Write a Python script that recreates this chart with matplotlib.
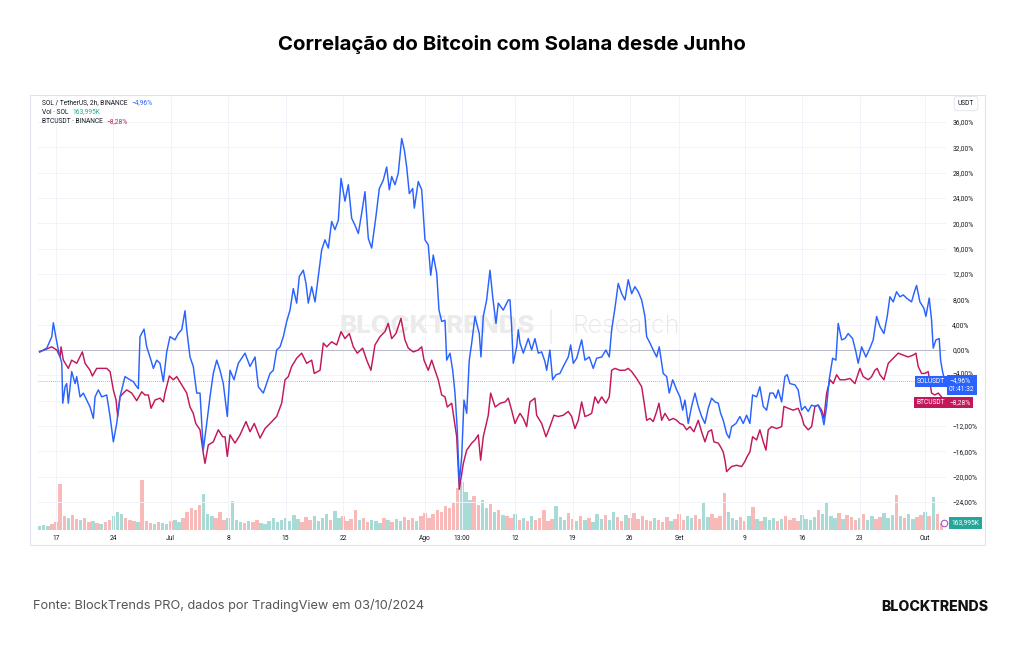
import numpy as np
import pandas as pd
import matplotlib
matplotlib.use("Agg")
import matplotlib.pyplot as plt
import matplotlib.transforms as mtransforms
from matplotlib.patches import Rectangle

# values, % change since the first bar
start = pd.Timestamp("2024-06-15")

sol_days = [0.0, 0.87, 1.48, 1.67, 2.0, 2.28, 2.7, 2.82, 3.1, 3.3, 3.5, 3.91, 4.32, 4.52, 4.93,
            5.33, 5.74, 6.15, 6.55, 6.76, 7.16, 7.57, 8.18, 8.59, 8.99, 9.4, 9.8, 10.41, 11.02,
            11.43, 11.84, 12.04, 12.24, 12.73, 13.06, 13.46, 13.87, 14.28, 14.68, 15.09, 15.5,
            15.9, 16.51, 16.91, 17.33, 17.73, 17.94, 18.34, 18.74, 19.16, 19.56, 19.77, 19.96,
            20.38, 20.78, 21.18, 21.6, 22.0, 22.4, 22.89, 23.22, 23.71, 24.23, 25.05, 25.66,
            26.27, 26.67, 27.28, 28.1, 28.5, 28.91, 29.32, 29.72, 30.13, 30.54, 30.94, 31.35,
            31.67, 32.16, 32.49, 32.77, 33.18, 33.59, 33.99, 34.4, 34.8, 35.21, 35.62, 36.02,
            36.43, 36.76, 37.24, 37.65, 38.06, 38.46, 38.87, 39.28, 39.68, 40.09, 40.5, 41.02,
            41.43, 41.91, 42.33, 42.65, 42.94, 43.34, 43.74, 44.16, 44.48, 44.77, 45.09, 45.5,
            45.7, 46.18, 46.6, 47.0, 47.4, 47.7, 48.01, 48.43, 48.71, 49.04, 49.44, 49.65,
            50.05, 50.38, 50.66, 50.94, 51.18, 51.48, 51.76, 52.09, 52.4, 52.7, 53.1, 53.62,
            53.83, 54.11, 54.52, 54.93, 55.26, 55.66, 55.94, 56.55, 57.16, 57.37, 57.57, 57.77,
            58.18, 58.38, 58.59, 58.99, 59.6, 60.01, 60.41, 60.82, 61.23, 61.63, 61.84, 62.24,
            62.57, 62.98, 63.46, 63.95, 64.48, 64.77, 65.09, 65.5, 66.11, 66.51, 67.04, 67.52,
            67.94, 68.55, 69.07, 69.48, 69.77, 70.17, 70.57, 70.99, 71.39, 71.79, 72.21, 72.61,
            73.01, 73.43, 73.83, 74.04, 74.44, 74.84, 75.26, 75.57, 75.87, 76.06, 76.48, 76.79,
            77.21, 77.7, 78.1, 78.43, 78.71, 79.11, 79.52, 79.93, 80.33, 80.74, 81.15, 81.55,
            81.96, 82.37, 82.77, 83.06, 83.38, 83.79, 84.11, 84.4, 84.93, 85.41, 85.82, 86.23,
            86.63, 86.96, 87.45, 87.85, 88.26, 88.67, 89.07, 89.48, 89.8, 90.09, 90.5, 90.9,
            91.18, 91.51, 92.12, 92.52, 92.94, 93.34, 93.74, 94.16, 94.56, 94.96, 95.38, 95.66,
            95.99, 96.3, 96.72, 97.12, 97.4, 97.82, 98.22, 98.62, 99.16, 99.56, 99.84, 100.26,
            100.78, 101.27, 101.67, 102.09, 102.49, 102.98, 103.38, 103.71, 104.11, 104.52,
            104.93, 105.33, 105.74, 106.35, 106.63, 106.96, 107.37, 107.85, 108.1, 108.5,
            108.79, 108.99, 109.32, 109.72, 109.89, 110.13, 110.41]
sol_pct = [-0.3, 0.3, 2.1, 4.3, 1.9, 0.0, -2.1, -8.4, -5.8, -5.3, -8.4, -3.4, -5.3, -4.2, -7.4,
           -6.8, -7.9, -9.0, -10.8, -7.4, -6.3, -7.4, -7.1, -10.5, -14.5, -11.6, -7.4, -4.2, -4.7,
           -5.0, -5.8, -6.1, 2.1, 3.3, 0.5, -1.1, -2.9, -1.6, -2.1, -5.0, -0.3,
           2.1, 1.6, 2.6, 3.2, 6.2, 3.2, -1.1, -2.6, -6.8, -6.8, -11.6, -15.8,
           -11.6, -7.4, -3.7, -1.6, -3.2, -5.3, -10.5, -3.2, -4.7, -2.1, -0.5, -2.6,
           -1.1, -5.8, -6.8, -3.7, -3.2, 0.0, 0.5, 2.1, 4.5, 6.3, 9.7, 7.4,
           11.6, 12.6, 10.5, 7.4, 10.0, 7.6, 11.6, 15.8, 17.4, 16.1, 20.3, 19.0,
           20.5, 27.1, 23.5, 26.1, 20.8, 19.7, 18.4, 21.6, 25.0, 17.6, 16.1, 21.1,
           25.5, 26.8, 28.9, 25.3, 27.4, 26.1, 27.9, 33.4, 31.6, 28.9, 24.7, 25.5,
           22.4, 26.6, 25.3, 17.4, 16.6, 11.8, 15.0, 12.1, 6.3, 4.5, 4.7, -1.6,
           -0.5, -3.2, -6.8, -12.6, -21.0, -16.8, -7.9, -10.0, -1.6, 1.1, 5.3, 2.6,
           -1.1, 5.3, 7.9, 12.6, 8.4, 4.2, 7.4, 6.3, 7.9, 7.9, 3.7, -2.1,
           0.5, 3.2, 1.1, -0.5, 1.8, 0.0, 1.8, -0.5, -0.3, -1.8, -3.2, 0.0,
           -4.7, -3.9, -3.7, -2.4, -1.1, 0.8, -2.1, -1.3, 1.6, -1.6, -1.1, -2.9,
           -1.3, -1.1, 0.0, -1.1, 3.2, 6.6, 10.5, 8.9, 7.9, 11.1, 8.9, 10.0,
           9.2, 7.9, 5.3, 2.1, 1.1, 0.0, -1.1, 0.5, -2.1, -3.7, -4.2, -6.8,
           -4.7, -6.3, -7.4, -9.5, -7.9, -11.6, -8.9, -6.8, -8.9, -10.5, -11.6, -9.2,
           -7.6, -8.2, -8.4, -10.0, -11.1, -13.2, -13.9, -12.1, -11.6, -10.5, -11.6, -10.3,
           -11.6, -7.1, -7.4, -5.8, -8.9, -9.5, -6.8, -6.8, -7.6, -6.3, -8.2, -4.2,
           -3.9, -5.3, -5.5, -6.3, -9.5, -8.9, -9.7, -8.7, -8.9, -8.7, -10.0, -11.8,
           -8.9, -4.7, -1.3, -1.6, 4.2, 1.6, 1.8, 2.6, 1.8, -0.3, -2.1, 0.5,
           -1.1, 0.3, 1.6, 5.3, 3.7, 2.6, 5.3, 8.4, 7.6, 9.2,
           8.4, 8.7, 8.2, 7.6, 8.9, 10.2, 7.6, 6.6, 5.3, 8.2,
           4.7, 0.3, 1.6, 1.8, -1.6, -3.4, -4.96]

btc_days = [0.0, 1.48, 2.09, 2.49, 2.61, 2.89, 3.5, 3.91, 4.52, 5.21, 5.54, 6.15, 6.43, 6.96,
            8.18, 8.59, 8.99, 9.32, 9.52, 9.8, 10.21, 10.62, 11.23, 11.84, 12.45, 12.85, 13.26,
            13.59, 14.07, 14.68, 15.09, 15.29, 15.82, 16.3, 16.72, 17.33, 17.94, 18.34, 18.74,
            19.04, 19.56, 19.96, 20.17, 20.57, 21.18, 21.79, 22.33, 22.61, 22.89, 23.22, 23.83,
            24.44, 25.17, 25.66, 26.18, 26.88, 27.49, 28.1, 28.91, 29.52, 29.93, 30.33, 30.74,
            31.35, 31.96, 32.57, 33.18, 33.5, 34.2, 34.6, 35.01, 35.62, 36.23, 36.76, 37.24,
            37.77, 38.26, 38.74, 39.4, 39.89, 40.41, 40.9, 41.51, 42.12, 42.52, 42.94, 43.46,
            44.07, 44.56, 44.96, 45.57, 46.18, 46.6, 46.88, 47.4, 47.82, 48.22, 48.62, 49.04,
            49.44, 49.72, 50.26, 50.57, 50.87, 51.18, 51.68, 52.09, 52.7, 53.1, 53.5, 53.79,
            54.11, 54.72, 55.01, 55.56, 56.17, 56.78, 57.16, 57.57, 57.98, 58.38, 58.59, 58.99,
            59.4, 59.8, 60.41, 60.62, 61.23, 61.76, 62.24, 62.73, 63.26, 63.87, 64.48, 64.89,
            65.29, 65.7, 66.11, 66.51, 66.91, 67.33, 67.73, 68.13, 68.55, 69.07, 69.48, 69.77,
            70.17, 70.78, 71.39, 71.79, 72.21, 72.82, 73.43, 73.74, 74.04, 74.44, 74.84, 75.26,
            75.54, 75.87, 76.27, 76.79, 77.28, 77.7, 78.1, 78.5, 78.91, 79.32, 79.8, 80.33,
            80.74, 81.15, 81.55, 81.96, 82.24, 82.77, 83.06, 83.38, 83.59, 83.79, 84.4, 85.01,
            85.62, 86.02, 86.3, 86.63, 86.96, 87.45, 87.85, 88.26, 88.59, 88.87, 89.28, 89.89,
            90.5, 90.78, 91.3, 91.91, 92.52, 92.94, 93.22, 93.74, 94.16, 94.56, 94.96, 95.38,
            95.66, 95.99, 96.41, 96.8, 97.21, 97.61, 98.22, 98.83, 99.44, 100.05, 100.45,
            101.06, 101.48, 101.88, 102.16, 102.49, 102.98, 103.51, 104.11, 104.72, 105.33,
            105.94, 106.55, 106.88, 107.16, 107.57, 107.98, 108.38, 108.79, 109.2, 109.6,
            110.01, 110.41]
btc_pct = [-0.3, 0.5, 0.0, -1.1, 0.5, -1.6, -2.9, -1.6, -2.1, -0.3, -2.1, -3.2, -4.1, -2.9,
           -2.9, -3.4, -6.3, -7.9, -10.5, -7.4, -6.8, -6.3, -6.8, -8.0, -6.6, -7.1, -7.1,
           -9.2, -7.9, -7.6, -8.2, -6.8, -4.1, -4.7, -4.2, -5.5, -6.8, -9.0, -10.0,
           -11.6, -12.6, -16.3, -17.9, -15.0, -14.5, -12.6, -13.7, -13.7, -16.8, -13.4, -14.7,
           -13.4, -11.3, -12.9, -11.6, -13.9, -12.4, -11.6, -10.5, -8.4, -4.7, -4.2, -2.6,
           -1.3, -0.5, -2.1, -1.6, -3.7, -3.2, 1.1, 0.5, 1.3, 0.8, 2.9, 1.8,
           2.6, 0.5, -0.5, 0.3, -1.6, -3.2, 0.8, 2.1, 2.9, 4.2, 1.8, 2.6,
           5.0, 1.6, 0.3, -0.3, 0.0, 0.5, -1.6, -3.2, -1.6, -3.2, -4.7, -7.1,
           -7.4, -9.0, -8.4, -11.1, -13.7, -22.0, -17.9, -15.8, -14.7, -14.2, -13.4, -17.4,
           -13.7, -10.3, -6.8, -9.0, -8.4, -8.2, -7.6, -9.5, -11.6, -10.5, -10.0, -10.8,
           -12.1, -8.2, -7.6, -10.3, -11.6, -13.7, -12.1, -10.3, -10.5, -10.3, -9.7, -10.5,
           -12.4, -11.1, -8.2, -10.5, -10.3, -10.0, -7.4, -8.4, -7.4, -8.4, -7.4, -3.2,
           -2.9, -3.2, -3.2, -2.9, -3.4, -4.5, -5.8, -8.4, -11.1, -10.8, -11.3, -9.7,
           -8.4, -11.1, -10.0, -11.1, -10.8, -11.1, -11.6, -11.8, -12.6, -12.1, -12.9, -11.1,
           -12.9, -14.5, -12.9, -12.6, -14.5, -14.7, -15.3, -16.1, -17.4, -19.2, -18.4, -18.2,
           -18.4, -17.6, -16.8, -16.1, -13.7, -14.2, -12.6, -14.5, -15.8, -12.6, -12.1, -12.4,
           -12.1, -8.9, -9.2, -9.5, -9.2, -10.5, -11.8, -12.6, -12.1, -8.9, -8.7, -9.5,
           -10.8, -6.8, -4.7, -5.3, -3.9, -4.7, -4.7, -4.5, -5.3, -2.9, -4.2,
           -4.7, -4.2, -3.2, -2.9, -3.9, -4.7, -2.1, -1.3, -0.5, -0.8,
           -1.1, -0.8, -0.5, -2.6, -3.7, -3.7, -3.4, -6.8, -7.1, -6.8,
           -7.4, -8.28]

# SOL volume, one value per 12h bucket (rough relative heights)
sol_vol = [4, 5, 4, 6, 8, 46, 14, 12, 15, 11,
           10, 12, 8, 9, 7, 6, 8, 10, 14, 18,
           16, 12, 10, 9, 8, 50, 9, 7, 6, 8,
           7, 6, 9, 10, 8, 12, 18, 22, 20, 25,
           36, 16, 14, 12, 18, 10, 12, 29, 10, 8,
           7, 9, 8, 10, 7, 6, 9, 12, 8, 10,
           12, 9, 15, 11, 8, 13, 10, 14, 9, 12,
           16, 10, 19, 12, 14, 9, 11, 20, 10, 12,
           8, 10, 9, 7, 12, 10, 8, 11, 9, 13,
           10, 12, 9, 14, 17, 12, 16, 20, 18, 24,
           22, 28, 42, 48, 38, 30, 34, 25, 30, 22,
           26, 18, 20, 15, 14, 12, 16, 10, 12, 9,
           14, 10, 12, 20, 9, 11, 24, 13, 10, 17,
           11, 9, 14, 10, 12, 8, 16, 11, 15, 10,
           18, 13, 9, 15, 12, 17, 11, 14, 10, 9,
           12, 10, 8, 13, 9, 11, 16, 10, 14, 12,
           15, 11, 27, 13, 16, 12, 14, 37, 18, 12,
           10, 13, 9, 14, 23, 11, 9, 13, 10, 12,
           9, 11, 14, 10, 12, 9, 15, 11, 10, 13,
           20, 16, 28, 14, 12, 17, 11, 15, 13, 10,
           12, 16, 10, 14, 11, 13, 17, 12, 15, 35,
           14, 12, 16, 11, 13, 15, 18, 14, 33, 16,
           7]

tick_dates = ["2024-06-17", "2024-06-24", "2024-07-01", "2024-07-08", "2024-07-15",
              "2024-07-22", "2024-08-01", "2024-08-05 13:00", "2024-08-12", "2024-08-19",
              "2024-08-26", "2024-09-01", "2024-09-09", "2024-09-16", "2024-09-23", "2024-10-01"]
tick_labels = ["17", "24", "Jul", "8", "15", "22", "Ago", "13:00", "12", "19", "26", "Set",
               "9", "16", "23", "Out"]
y_ticks = list(range(-24, 37, 4))

sol_last = -4.96
btc_last = -8.28
vol_last = "163,995K"
countdown = "01:41:32"

BLUE = "#2962ff"
RED = "#c2185b"
TEAL = "#26a69a"
TXT = "#131722"
MINUS = "\u2212"


def pct(v):
    return f"{v:.2f}".replace(".", ",").replace("-", MINUS) + "%"


W, H = 1024, 645
fig = plt.figure(figsize=(W / 100, H / 100), dpi=100)
fig.patch.set_facecolor("white")

# chart panel (pixel layout of the screenshot)
px_l, px_r, px_t, px_b = 38, 946, 97, 530
ax = fig.add_axes([px_l / W, 1 - px_b / H, (px_r - px_l) / W, (px_b - px_t) / H])
axv = ax.twinx()
ax.set_zorder(axv.get_zorder() + 1)
ax.patch.set_visible(False)

fig.patches.append(Rectangle((30 / W, 1 - 545 / H), (985 - 30) / W, (545 - 95) / H,
                             transform=fig.transFigure, fill=False, ec="#e0e3eb", lw=0.8))

sol_t = start + pd.to_timedelta(sol_days, unit="D")
btc_t = start + pd.to_timedelta(btc_days, unit="D")
vol_t = pd.date_range(start, periods=len(sol_vol), freq="12h")

# volume colour follows the SOL move inside each bucket
vol_d = np.asarray((vol_t - start) / pd.Timedelta(days=1))
sol_at = np.interp(vol_d + 0.5, sol_days, sol_pct)
sol_prev = np.interp(vol_d, sol_days, sol_pct)
vcols = np.where(sol_at >= sol_prev, TEAL, "#ef5350")
axv.bar(vol_t, sol_vol, width=0.42, color=vcols, alpha=0.4, linewidth=0)
axv.set_ylim(0, max(sol_vol) * 8.7)
axv.set_yticks([])
for s in axv.spines.values():
    s.set_visible(False)

ax.plot(btc_t, btc_pct, color=RED, lw=1.05, zorder=3)
ax.plot(sol_t, sol_pct, color=BLUE, lw=1.05, zorder=4)
ax.axhline(0, color="#b8bbc4", lw=0.7, zorder=2)
ax.axhline(sol_last, color=BLUE, lw=0.6, ls=(0, (1, 1.5)), alpha=0.6, zorder=2)

ax.set_xlim(start - pd.Timedelta(days=0.2), start + pd.Timedelta(days=110.55))
ax.set_ylim(-28.42, 39.95)

ax.set_xticks([pd.Timestamp(s) for s in tick_dates])
ax.set_xticklabels(tick_labels)
ax.set_yticks(y_ticks)
# the -8% label sits fully under the BTC price tag in the screenshot
ax.set_yticklabels(["" if v == -8 else pct(v) for v in y_ticks])
ax.yaxis.tick_right()
ax.tick_params(axis="both", length=0, labelsize=4.8, labelcolor=TXT)
ax.tick_params(axis="x", pad=3.5)
ax.tick_params(axis="y", pad=4.5)
for lab, v in zip(ax.get_yticklabels(), y_ticks):
    if v == -4:
        lab.set_transform(lab.get_transform() + mtransforms.ScaledTranslation(0, 2.2 / 72, fig.dpi_scale_trans))
for lab in ax.get_xticklabels() + ax.get_yticklabels():
    lab.set_family("Roboto")
ax.grid(True, color="#f0f3fa", lw=0.7)
ax.set_axisbelow(True)
for s in ax.spines.values():
    s.set_visible(False)

# watermark
ax.text(0.4394, 0.469, "BLOCKTRENDS", transform=ax.transAxes, ha="center", va="center",
        family="Inter", weight="heavy", fontsize=18.5, color="#ebebeb", zorder=1)
ax.text(0.565, 0.469, "|", transform=ax.transAxes, ha="center", va="center",
        family="Inter", weight="light", fontsize=20, color="#e6e6e6", zorder=1)
ax.text(0.6476, 0.469, "Research", transform=ax.transAxes, ha="center", va="center",
        family="Inter", weight="light", fontsize=18, color="#e6e6e6", zorder=1)

# last value labels on the price scale
tr = mtransforms.blended_transform_factory(ax.transAxes, ax.transData)
small = dict(fontsize=4.8, family="Roboto", color="white", zorder=8, clip_on=False)
ax.text(0.999, sol_last, "SOLUSDT", transform=tr, ha="right", va="center",
        bbox=dict(boxstyle="square,pad=0.35", fc=BLUE, ec="none"), **small)
ax.annotate(f"{pct(sol_last)}\n{countdown}", xy=(1.0, sol_last), xycoords=tr,
            xytext=(2.2, 3.2), textcoords="offset points", ha="left", va="top",
            linespacing=1.35,
            bbox=dict(boxstyle="square,pad=0.35", fc=BLUE, ec="none"), **small)
ax.text(0.999, btc_last, "BTCUSDT", transform=tr, ha="right", va="center",
        bbox=dict(boxstyle="square,pad=0.35", fc=RED, ec="none"), **small)
ax.annotate(pct(btc_last), xy=(1.0, btc_last), xycoords=tr,
            xytext=(2.2, 0), textcoords="offset points", ha="left", va="center",
            bbox=dict(boxstyle="square,pad=0.35", fc=RED, ec="none"), **small)

trv = mtransforms.blended_transform_factory(axv.transAxes, axv.transData)
axv.annotate(vol_last, xy=(1.0, sol_vol[-1]), xycoords=trv, xytext=(4, 0),
             textcoords="offset points", ha="left", va="center",
             bbox=dict(boxstyle="square,pad=0.35", fc=TEAL, ec="none"), **small)
axv.scatter([0.998], [sol_vol[-1]], transform=trv, s=22, facecolors="white",
            edgecolors="#b04fd6", linewidths=0.8, zorder=7, clip_on=False)

# currency box
fig.text(966 / W, 1 - 103.5 / H, "USDT", ha="center", va="center", fontsize=4.8,
         family="Roboto", color=TXT,
         bbox=dict(boxstyle="round,pad=0.55,rounding_size=0.4", fc="white", ec="#e0e3eb", lw=0.6))

# legend lines, top-left
fig.canvas.draw()
rend = fig.canvas.get_renderer()
legend_rows = [("SOL / TetherUS, 2h, BINANCE", pct(sol_last), BLUE),
               ("Vol \u00b7 SOL", vol_last, TEAL),
               ("BTCUSDT \u00b7 BINANCE", pct(btc_last), RED)]
for i, (lab, val, col) in enumerate(legend_rows):
    y = 1 - (102.5 + i * 9.6) / H
    t = fig.text(42 / W, y, lab, ha="left", va="center", fontsize=4.8, family="Roboto", color=TXT)
    bb = t.get_window_extent(rend)
    fig.text(bb.x1 / W + 4 / W, y, val, ha="left", va="center", fontsize=4.8,
             family="Roboto", color=col)

fig.text(0.5, 1 - 44 / H, "Correlação do Bitcoin com Solana desde Junho", ha="center",
         va="center", family="Inter", weight="bold", fontsize=14.7, color="black")
fig.text(33 / W, 1 - 606 / H, "Fonte: BlockTrends PRO, dados por TradingView em 03/10/2024",
         ha="left", va="center", family="Inter", fontsize=9.2, color="#555555")
fig.text(988 / W, 1 - 607 / H, "BLOCKTRENDS", ha="right", va="center", family="Inter",
         weight="heavy", fontsize=10.2, color="#111111")

fig.savefig("out.png", dpi=100)
